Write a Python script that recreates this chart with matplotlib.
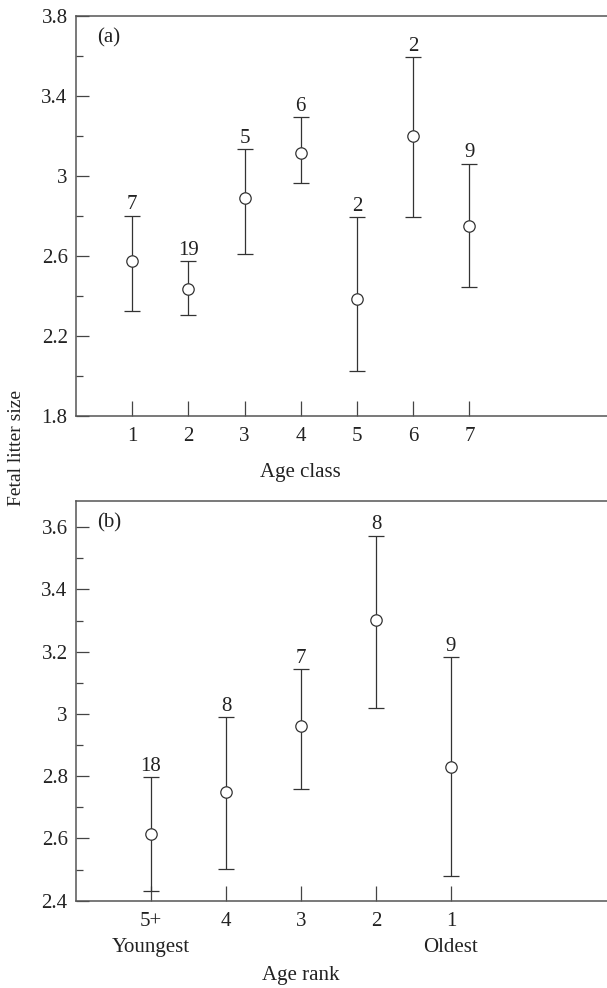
import matplotlib
matplotlib.use('Agg')
import matplotlib.pyplot as plt
from matplotlib.ticker import FixedLocator, FormatStrFormatter
import numpy as np

plt.rcParams['font.family'] = 'Liberation Serif'
plt.rcParams['font.size'] = 15

# panel (a): age class
cls = [1, 2, 3, 4, 5, 6, 7]
cls_mean = [2.574, 2.437, 2.890, 3.115, 2.383, 3.200, 2.750]
cls_hi = [2.800, 2.572, 3.133, 3.292, 2.793, 3.593, 3.060]
cls_lo = [2.327, 2.305, 2.608, 2.965, 2.025, 2.795, 2.445]
cls_n = ['7', '19', '5', '6', '2', '2', '9']
cls_yticks = [1.8, 2.2, 2.6, 3.0, 3.4, 3.8]
cls_yminor = [2.0, 2.4, 2.8, 3.2, 3.6]

# panel (b): age rank
rank_pos = [1, 2, 3, 4, 5]
rank_lbl = ['5+\nYoungest', '4', '3', '2', '1\nOldest']
rank_mean = [2.614, 2.750, 2.961, 3.303, 2.831]
rank_hi = [2.797, 2.989, 3.144, 3.573, 3.182]
rank_lo = [2.432, 2.501, 2.760, 3.020, 2.478]
rank_n = ['18', '8', '7', '8', '9']
rank_yticks = [2.4, 2.6, 2.8, 3.0, 3.2, 3.4, 3.6]
rank_yminor = [2.5, 2.7, 2.9, 3.1, 3.3, 3.5]

W, H = 607, 988
fig = plt.figure(figsize=(W/100, H/100), dpi=100)
col = '#333333'
txt = '#222222'

def panel(rect, x, mean, hi, lo, n, tag):
    ax = fig.add_axes(rect)
    mean = np.array(mean); hi = np.array(hi); lo = np.array(lo)
    ax.errorbar(x, mean, yerr=[mean-lo, hi-mean], fmt='o', color=col,
                mfc='white', mec=col, ms=8.2, mew=0.9, elinewidth=0.9,
                capsize=6, capthick=0.9, zorder=3)
    for xi, h, t in zip(x, hi, n):
        ax.annotate(t, (xi, h), xytext=(0, 1), textcoords='offset points',
                    ha='center', va='bottom', color=txt)
    ax.text(21/(W-76), 1 - 22/400, tag, transform=ax.transAxes,
            ha='left', va='center', color=txt)
    ax.spines['right'].set_visible(False)
    for s in ['left', 'bottom', 'top']:
        ax.spines[s].set_color('#555555')
        ax.spines[s].set_linewidth(1.1)
    ax.tick_params(axis='y', which='major', direction='in', length=9.5, width=0.9,
                   color='#444444', pad=6, labelcolor=txt)
    ax.tick_params(axis='y', which='minor', direction='in', length=5, width=0.9,
                   color='#444444')
    ax.tick_params(axis='x', which='major', direction='in', length=11, width=0.9,
                   color='#444444', pad=8, labelcolor=txt)
    return ax

# top panel
ax1 = panel([76/W, 1-416/H, (W-76)/W, 400.3/H], cls, cls_mean, cls_hi, cls_lo, cls_n, '(a)')
ax1.set_xlim(0, (W-76)/56.2)
ax1.set_ylim(1.8, 3.8)
ax1.set_xticks(cls)
ax1.set_yticks(cls_yticks)
ax1.yaxis.set_minor_locator(FixedLocator(cls_yminor))
ax1.yaxis.set_major_formatter(FormatStrFormatter('%g'))
ax1.set_xlabel('Age class', color=txt, va='center')
ax1.xaxis.set_label_coords((300.5-76)/(W-76), -(473-416)/400.3)

# bottom panel
ax2 = panel([76/W, 1-900.7/H, (W-76)/W, 400/H], rank_pos, rank_mean, rank_hi, rank_lo, rank_n, '(b)')
ax2.set_xlim(0, (W-76)/75.0)
ax2.set_ylim(2.4, 3.685)
ax2.set_xticks(rank_pos)
ax2.set_xticklabels(rank_lbl)
for lab in ax2.get_xticklabels():
    lab.set_linespacing(1.5)
ax2.set_yticks(rank_yticks)
ax2.yaxis.set_minor_locator(FixedLocator(rank_yminor))
ax2.yaxis.set_major_formatter(FormatStrFormatter('%g'))
ax2.set_xlabel('Age rank', color=txt, va='center')
ax2.xaxis.set_label_coords((300.7-76)/(W-76), -(975-900.7)/400)

fig.text(17/W, 1-448/H, 'Fetal litter size', rotation=90, ha='center', va='center',
         fontsize=14, color=txt)

fig.savefig('out.png', dpi=100)
